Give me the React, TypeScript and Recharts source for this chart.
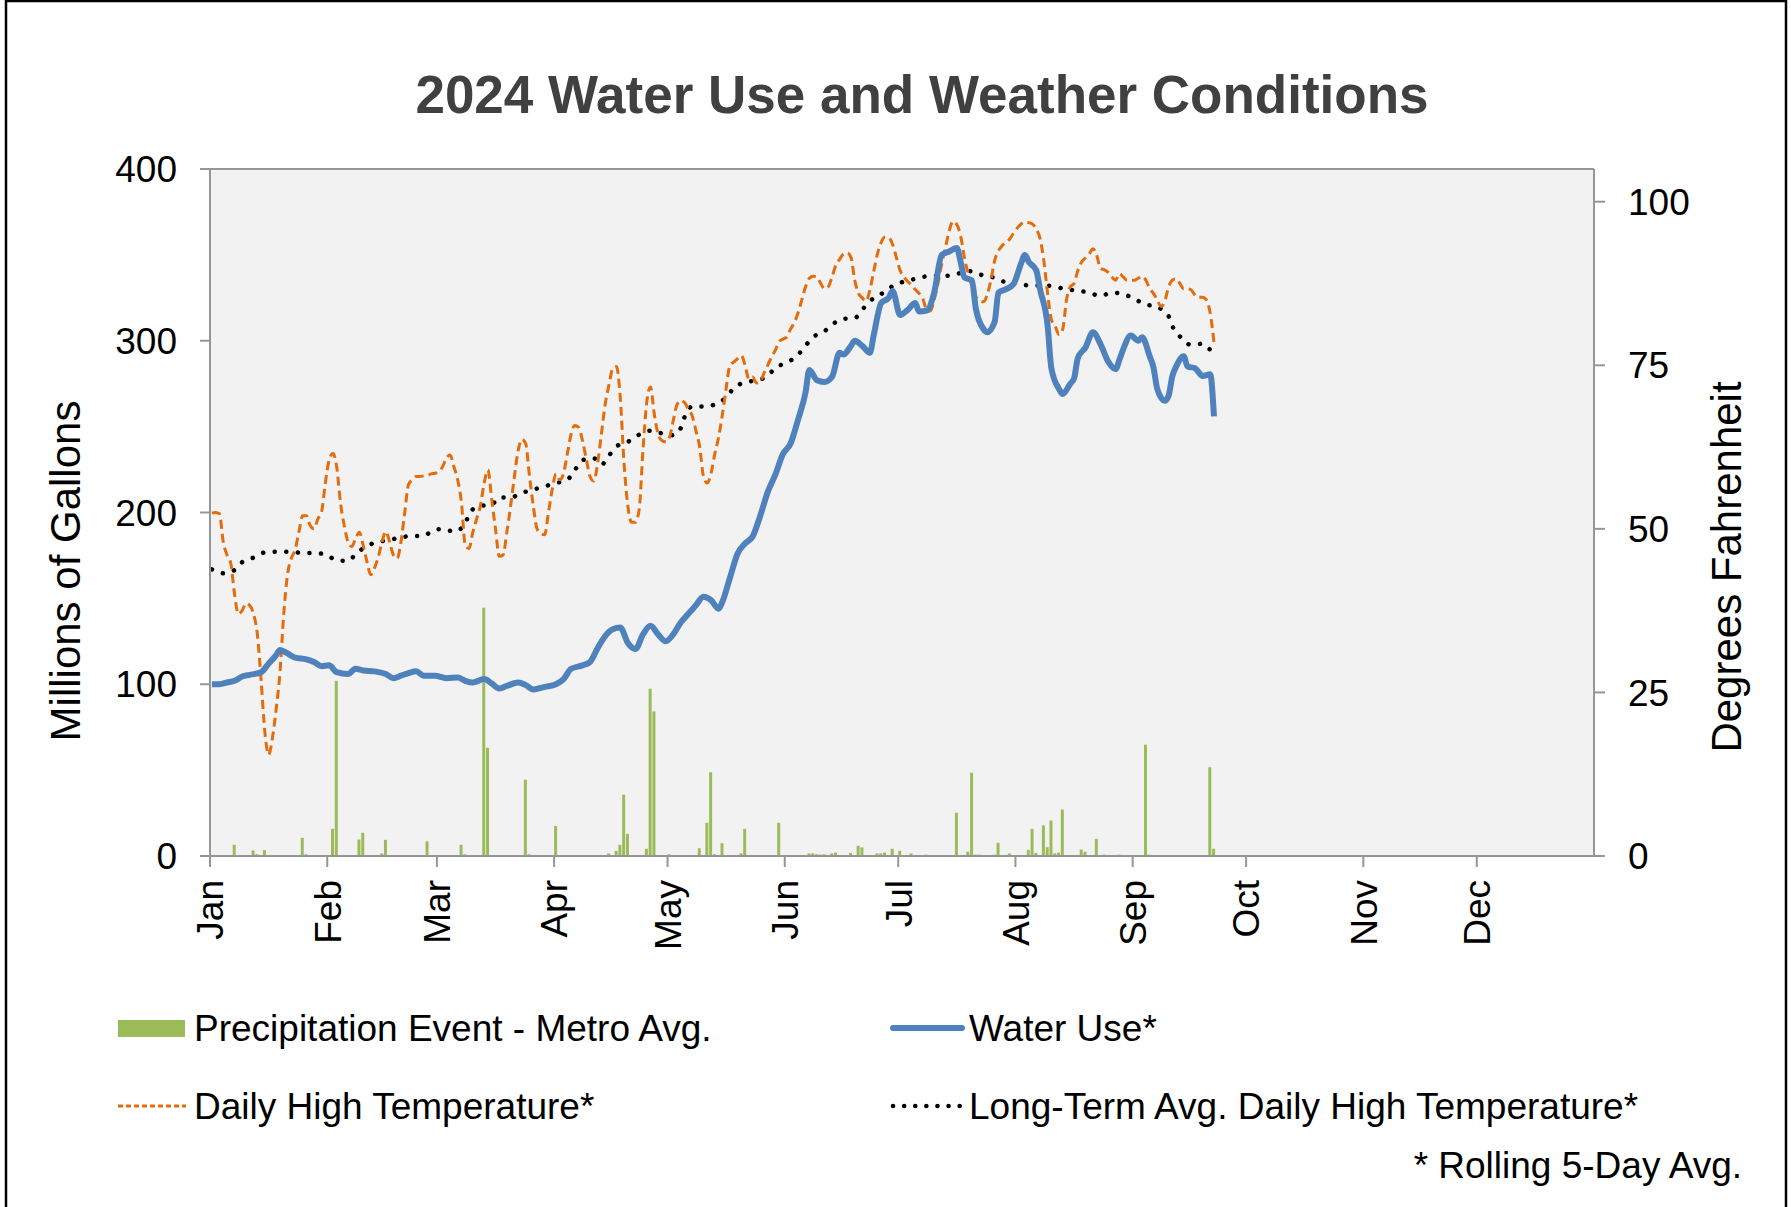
import React from "react";
import { Bar, CartesianGrid, ComposedChart, Line, ReferenceLine, XAxis, YAxis } from "recharts";

const FONT = "'Liberation Sans', Arial, sans-serif";

// x axis: day of year, months start at these offsets (2024 is a leap year)
const monthNames = ["Jan", "Feb", "Mar", "Apr", "May", "Jun", "Jul", "Aug", "Sep", "Oct", "Nov", "Dec"];
const monthStarts = [0, 31, 60, 91, 121, 152, 182, 213, 244, 274, 305, 335];

// water use, millions of gallons (rolling 5-day avg)
const waterDays = [
    1, 3, 5, 7, 9, 11, 14, 16, 18, 19, 21, 23, 26, 28, 30, 32, 34, 37, 39, 41, 44, 47, 49, 51, 53, 55, 57, 60,
    63, 66, 68, 70, 73, 75, 77, 79, 82, 84, 86, 89, 92, 94, 96, 99, 101, 103, 105, 107, 109, 111, 113, 115, 117,
    119, 121, 123, 125, 127, 129, 131, 133, 135, 136, 138, 140, 142, 144, 146, 148, 150, 152, 154, 156, 158, 159,
    161, 163, 165, 167, 168, 170, 171, 173, 175, 176, 178, 180, 181, 183, 185, 187, 188, 190, 192, 194, 196, 198,
    199, 200, 202, 203, 205, 206, 208, 209, 211, 213, 215, 216, 217, 219, 220, 222, 223, 225, 226, 228, 229, 230,
    232, 234, 236, 238, 240, 241, 242, 244, 246, 247, 249, 250, 251, 253, 254, 255, 256, 258, 259, 261, 263, 265,
    266,
];
const waterUse = [
    100, 100, 101, 102, 104.5, 105.5, 107, 112, 117, 120, 118, 115.5, 114.5, 113, 110.5, 111, 107, 106, 109, 108,
    107.5, 106, 103.5, 105, 106.5, 107.5, 105, 105, 103.5, 104, 102, 101, 103, 100.5, 97.5, 99, 101, 99.5, 97,
    98.5, 100, 103, 109, 111, 113, 121, 128, 132, 133, 124, 120.5, 129, 134, 129, 125, 129, 136, 141, 146, 151,
    149, 144, 148, 162, 176, 182, 186, 198, 212, 222, 234, 240, 254, 270, 283, 277, 276, 279, 293, 292, 297, 300,
    297, 293, 303, 322, 325, 329, 315, 318, 322, 317, 317.5, 328, 350, 352, 354, 346, 337, 335, 319, 307, 305,
    311, 328, 330, 333, 345, 350, 346, 341, 330, 309, 284, 272, 269, 275, 278, 290, 296, 305, 298, 288, 283.5,
    289, 295, 303, 300, 302, 291, 284.5, 272, 265, 268, 279.5, 285, 291, 285, 284, 279.5, 280.5, 256,
];

// daily high temperature, deg F (rolling 5-day avg), one value per day from Jan 1
const highStartDay = 1;
const dailyHigh = [
    52.4, 52.5, 52.3, 48, 46, 44.7, 40, 37, 37.5, 38.6,
    38.3, 37, 34, 27, 19, 15.5, 18, 22.5, 28, 37,
    43, 45.5, 46.8, 49.5, 52, 52, 50.5, 50, 51.5, 52.6,
    57, 60.5, 61.5, 59.5, 54, 50.5, 48, 47.3, 48.5, 49.5,
    47.5, 45, 43, 44, 45.7, 48, 49.6, 48, 46, 45.5,
    48, 52.5, 56.8, 57.5, 58, 58, 58.1, 58.2, 58.4, 58.5,
    58.7, 59.5, 60.8, 61.3, 59.5, 57.5, 54, 47.5, 47, 49.5,
    51.5, 53.5, 57, 59, 54.5, 50, 45.8, 46, 49.5, 53.5,
    58, 62, 63.7, 63, 58, 53.5, 50, 49.3, 49.1, 52.5,
    56, 58.4, 57.5, 58.5, 61.5, 64.5, 65.8, 65.5, 63.5, 60.7,
    58, 57.3, 60, 64.5, 69, 72, 74.5, 74.8, 70, 60,
    53.5, 51, 51, 53, 62, 69.4, 71.7, 67.5, 64.5, 63.5,
    63.3, 64, 66.5, 69, 69.6, 69.3, 68.3, 67.3, 65, 62.5,
    58, 57, 58.5, 61.5, 64, 67.5, 71.5, 75, 75.5, 76,
    76.5, 75, 72.9, 73.2, 72.3, 72.5, 73.8, 75, 76.3, 77.3,
    78.6, 79, 79.3, 80.5, 81.5, 83, 85, 87, 88.3, 88.6,
    88.5, 87.5, 86.7, 87, 88.5, 90.3, 91.2, 92, 92.2, 91.5,
    88, 86, 85.3, 84.8, 86.5, 89.3, 92, 93.8, 94.6, 94.5,
    93.5, 91.5, 89.5, 88.5, 87.8, 87.3, 86.6, 86, 85.2, 83.5,
    83.3, 85, 87.5, 90.5, 93, 95.6, 97, 96.5, 94.8, 91.5,
    89, 87.2, 85.5, 84.9, 84.7, 85.7, 88, 91, 92.5, 93.3,
    93.8, 94.3, 95.2, 96, 96.6, 96.9, 96.8, 96.6, 95.8, 94.4,
    91, 86, 82, 81, 79.7, 80.5, 85, 87, 87.5, 89.5,
    90.8, 91.4, 92, 92.8, 91.8, 89.8, 89.6, 89.2, 88.5, 88,
    89, 88.5, 88, 88, 88, 88.3, 88.6, 88, 86.7, 86,
    85, 84, 84.8, 87, 88, 88.2, 87.5, 86.7, 86.7, 86.5,
    85.7, 85.4, 85.4, 85, 83, 78.5,
];

// long-term average daily high, deg F
const normalDays = [
    1, 4, 7, 9, 12, 15, 18, 22, 25, 28, 31, 34, 37, 39, 42, 45, 48, 51, 54, 57, 59, 62, 65, 68, 69, 72, 75, 77,
    80, 83, 86, 89, 92, 95, 97, 99, 102, 104, 106, 108, 111, 114, 117, 120, 123, 125, 126, 128, 131, 134, 137, 139,
    142, 145, 148, 150, 153, 156, 158, 160, 163, 165, 168, 171, 173, 175, 178, 181, 184, 187, 190, 193, 196, 199,
    202, 205, 208, 211, 214, 217, 221, 224, 227, 230, 233, 236, 239, 242, 245, 248, 251, 254, 255, 257, 260, 263,
    265, 266,
];
const normalHigh = [
    43.8, 43.2, 43.7, 44.9, 45.6, 46.4, 46.5, 46.5, 46.3, 46.3, 46.1, 45.2, 45.1, 46.1, 47.4, 48, 48.3, 48.7, 48.9,
    48.9, 49.6, 50, 49.6, 50.7, 52.4, 53.5, 53.7, 54.8, 54.8, 55.5, 56, 56.5, 57, 57.5, 59, 60.5, 60.8, 59.8, 61.2,
    62.6, 63.3, 64.4, 65, 64.6, 64.3, 65.4, 67.1, 68.7, 68.7, 69, 70.1, 71.5, 72.4, 72.7, 73.4, 74.6, 75.4, 76.6,
    78, 79.3, 80.2, 81.2, 82.1, 82.2, 83.5, 84.8, 85.9, 87.1, 87.8, 88.2, 88.6, 88.7, 88.7, 89.1, 89.4, 88.7, 88.4,
    87.7, 87.6, 87.2, 87.2, 87, 86.6, 86.4, 86.1, 85.6, 86.1, 85.9, 85.1, 84.3, 83.9, 82.5, 81, 79.4, 78.1, 78.3,
    77.4, 77.2,
];

// precipitation events, metro avg (plotted on the gallons axis)
const rainDays = [
    7, 12, 13, 15, 25, 26, 33, 34, 40, 41, 46, 47, 58, 67, 68, 73, 74, 84, 85, 92, 106, 108, 109, 110, 111, 116,
    117, 118, 122, 130, 132, 133, 134, 136, 141, 142, 151, 159, 160, 161, 162, 163, 165, 166, 170, 172, 173, 177,
    178, 179, 181, 183, 186, 190, 198, 201, 202, 203, 204, 208, 209, 212, 217, 218, 219, 221, 222, 223, 224, 225,
    226, 231, 232, 235, 237, 241, 248, 249, 265, 266,
];
const rainAmount = [
    6.5, 3.2, 1, 3.5, 10.6, 1, 15.8, 102, 9.6, 13.5, 1.5, 9.4, 8.5, 6.5, 1, 144.6, 63, 44.4, 1, 17.4, 1.5, 3, 6.5,
    35.7, 12.9, 4.2, 97.4, 84.2, 1, 4.5, 19.3, 48.8, 1, 7.5, 1.5, 15.8, 19.3, 1.5, 1.5, 1, 0.8, 1, 1.5, 2, 1.8, 6,
    5, 1.5, 1.5, 2, 4.2, 3, 1.5, 0.8, 25.2, 2.5, 48.5, 0.8, 0.8, 0.8, 7.7, 1.5, 3.6, 15.8, 1.8, 17.8, 5.1, 20.7,
    1.5, 2, 27.1, 3.8, 2.5, 10, 0.8, 0.8, 64.8, 0.8, 51.7, 4.2,
];

const lastDay = 267;

const toMap = (days: number[], values: number[]) => {
    const m = new Map<number, number>();
    days.forEach((d, i) => m.set(d, values[i]));
    return m;
};
const waterMap = toMap(waterDays, waterUse);
const normalMap = toMap(normalDays, normalHigh);
const rainMap = toMap(rainDays, rainAmount);

// one row per day, plotted at the middle of the day
const table: any[] = [];
for (let day = 1; day <= lastDay; day++) {
    table.push({
        x: day - 0.5,
        water: waterMap.get(day),
        high: dailyHigh[day - highStartDay],
        normal: normalMap.get(day),
        rain: rainMap.get(day),
    });
}

const AXIS = "#969696";

function MonthTick({ x, y, payload }: any) {
    const i = monthStarts.indexOf(payload.value);
    return (
        <text
            x={x}
            y={y}
            transform={`rotate(-90 ${x} ${y})`}
            textAnchor="end"
            dy="0.36em"
            fontSize={37}
            fontFamily={FONT}
            fill="#000"
        >
            {monthNames[i]}
        </text>
    );
}

function Overlay() {
    const t = { fontFamily: FONT, fill: "#000" };
    return (
        <svg width={1791} height={1207} style={{ position: "absolute", left: 0, top: 0, pointerEvents: "none" }}>
            <text x={922} y={94} textAnchor="middle" dominantBaseline="central" fontSize={53} fontWeight="bold" fontFamily={FONT} fill="#404040">
                2024 Water Use and Weather Conditions
            </text>
            <text x={65} y={571} transform="rotate(-90 65 571)" textAnchor="middle" dominantBaseline="central" fontSize={42} {...t}>
                Millions of Gallons
            </text>
            <text x={1726} y={567} transform="rotate(-90 1726 567)" textAnchor="middle" dominantBaseline="central" fontSize={42} {...t}>
                Degrees Fahrenheit
            </text>

            {/* legend */}
            <rect x={118} y={1020} width={67} height={17} fill="#9BBB59" />
            <text x={194} y={1028} dominantBaseline="central" fontSize={37} {...t}>Precipitation Event - Metro Avg.</text>
            <line x1={893} y1={1028} x2={962} y2={1028} stroke="#4F81BD" strokeWidth={6} strokeLinecap="round" />
            <text x={969} y={1028} dominantBaseline="central" fontSize={37} {...t}>Water Use*</text>
            <line x1={118} y1={1106} x2={186} y2={1106} stroke="#E46C0A" strokeWidth={3} strokeDasharray="5 3" />
            <text x={194} y={1106} dominantBaseline="central" fontSize={37} {...t}>Daily High Temperature*</text>
            <line x1={893} y1={1106} x2={962} y2={1106} stroke="#000" strokeWidth={4.5} strokeDasharray="0.1 11" strokeLinecap="round" />
            <text x={969} y={1106} dominantBaseline="central" fontSize={37} {...t}>Long-Term Avg. Daily High Temperature*</text>
            <text x={1742} y={1165} textAnchor="end" dominantBaseline="central" fontSize={37} {...t}>* Rolling 5-Day Avg.</text>

            {/* outer frame, its bottom edge falls below the picture */}
            <rect x={6} y={1} width={1780} height={1215} fill="none" stroke="#000" strokeWidth={2.5} />
        </svg>
    );
}

export default function App() {
    return (
        <div style={{ position: "absolute", left: 0, top: 0, width: 1791, height: 1207, background: "#fff", overflow: "hidden" }}>
            <ComposedChart
                width={1791}
                height={1207}
                data={table}
                margin={{ top: 169, right: 77, bottom: 251, left: 90 }}
                barGap={0}
            >
                <CartesianGrid yAxisId="left" horizontal={false} vertical={false} fill="#F2F2F2" />
                <XAxis
                    dataKey="x"
                    type="number"
                    domain={[0, 366]}
                    ticks={monthStarts}
                    interval={0}
                    height={100}
                    tick={<MonthTick />}
                    tickSize={11}
                    tickMargin={13}
                    axisLine={{ stroke: AXIS, strokeWidth: 2 }}
                    tickLine={{ stroke: AXIS, strokeWidth: 2 }}
                />
                <YAxis
                    yAxisId="left"
                    domain={[0, 400]}
                    ticks={[0, 100, 200, 300, 400]}
                    width={120}
                    tickSize={10}
                    tickMargin={23}
                    tick={{ fontSize: 37, fill: "#000", fontFamily: FONT }}
                    axisLine={{ stroke: AXIS, strokeWidth: 2 }}
                    tickLine={{ stroke: AXIS, strokeWidth: 2 }}
                />
                <YAxis
                    yAxisId="right"
                    orientation="right"
                    domain={[0, 105]}
                    ticks={[0, 25, 50, 75, 100]}
                    width={120}
                    tickSize={11}
                    tickMargin={23}
                    tick={{ fontSize: 37, fill: "#000", fontFamily: FONT }}
                    axisLine={{ stroke: AXIS, strokeWidth: 2 }}
                    tickLine={{ stroke: AXIS, strokeWidth: 2 }}
                />
                <ReferenceLine yAxisId="left" y={400} stroke={AXIS} strokeWidth={2} />
                <Bar yAxisId="left" dataKey="rain" fill="#9BBB59" barSize={3} isAnimationActive={false} />
                <Line
                    yAxisId="right"
                    dataKey="normal"
                    type="monotone"
                    stroke="#000"
                    strokeWidth={4.5}
                    strokeDasharray="0.1 11.5"
                    strokeLinecap="round"
                    dot={false}
                    connectNulls
                    isAnimationActive={false}
                />
                <Line
                    yAxisId="right"
                    dataKey="high"
                    type="monotone"
                    stroke="#E46C0A"
                    strokeWidth={3}
                    strokeDasharray="9 5"
                    dot={false}
                    connectNulls
                    isAnimationActive={false}
                />
                <Line
                    yAxisId="left"
                    dataKey="water"
                    type="monotone"
                    stroke="#4F81BD"
                    strokeWidth={6}
                    dot={false}
                    connectNulls
                    isAnimationActive={false}
                />
            </ComposedChart>
            <Overlay />
        </div>
    );
}
